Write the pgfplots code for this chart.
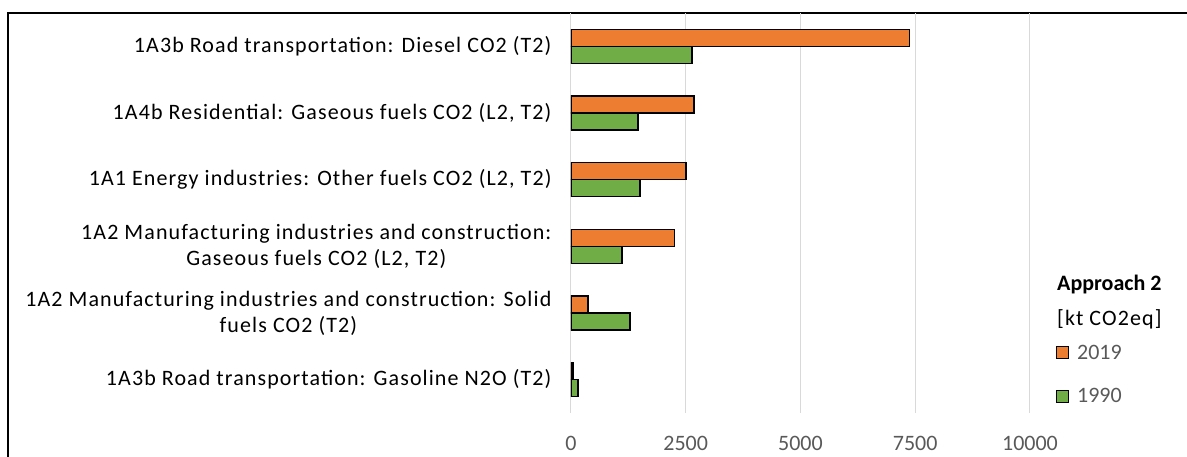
\documentclass[border=0pt]{standalone}
\usepackage{fontspec}
\setmainfont{Carlito}
\newfontfamily\catfont{Carlito}[LetterSpace=5]
\usepackage{pgfplots}
\pgfplotsset{compat=1.18}
\definecolor{bar2019}{HTML}{ED7D31}
\definecolor{bar1990}{HTML}{70AD47}
\definecolor{gridgray}{HTML}{D9D9D9}
\definecolor{ticktext}{HTML}{595959}
\newcommand{\lblfont}{\fontsize{22}{26}\selectfont}

\begin{document}
\begin{tikzpicture}
% page = 1187 x 457, origin at the lower left of the plot area
\useasboundingbox (-571pt,-44pt) rectangle (616pt,413pt);
\draw[line width=1.5pt] (-563pt,-60pt) -- (-563pt,400pt) -- (630pt,400pt);
\begin{axis}[
    scale only axis,
    width=459pt, height=400pt,
    xmin=0, xmax=10000,
    ymin=-0.5, ymax=5.5,
    xbar, bar width=17pt,
    axis line style={draw=none},
    major tick length=0pt,
    xtick={0,2500,5000,7500,10000},
    ytick={0,1,2,3,4,5},
    yticklabels={
        1A3b Road transportation: Gasoline N2O (T2),
        {1A2 Manufacturing industries and construction: Solid\\fuels CO2 (T2)},
        {1A2 Manufacturing industries and construction:\\Gaseous fuels CO2 (L2, T2)},
        {1A1 Energy industries: Other fuels CO2 (L2, T2)},
        {1A4b Residential: Gaseous fuels CO2 (L2, T2)},
        1A3b Road transportation: Diesel CO2 (T2)
    },
    xmajorgrids=true,
    grid style={gridgray, line width=1pt},
    scaled x ticks=false,
    /pgf/number format/1000 sep={},
    /pgf/number format/assume math mode=true,
    yticklabel style={font=\catfont\lblfont, align=center, text=black},
    yticklabel shift=16pt,
    xticklabel style={font=\lblfont, text=ticktext, anchor=base, yshift=-38pt},
    legend style={font=\lblfont, text=ticktext, draw=none, fill=none,
        inner sep=0pt, row sep=26pt, column sep=7pt,
        nodes={inner sep=1pt},
        at={(1.056,0.096)}, anchor=west},
    legend image code/.code={\draw[#1, line width=1.2pt] (0pt,-6pt) rectangle (12pt,6pt);},
    legend cell align=left,
]
\addplot[fill=bar2019, draw=black, line width=1.5pt, bar shift=8.5pt]
    coordinates {(40,0)(370,1)(2250,2)(2510,3)(2680,4)(7380,5)};
\addlegendentry{2019}
\addplot[fill=bar1990, draw=black, line width=1.5pt, bar shift=-8.5pt]
    coordinates {(150,0)(1290,1)(1110,2)(1500,3)(1460,4)(2640,5)};
\addlegendentry{1990}
\end{axis}
\node[anchor=west, inner sep=0pt, font=\lblfont\bfseries] at (486pt,128pt) {Approach 2};
\node[anchor=west, inner sep=0pt, font=\catfont\lblfont] at (486pt,94pt) {[kt CO2eq]};
\end{tikzpicture}
\end{document}
